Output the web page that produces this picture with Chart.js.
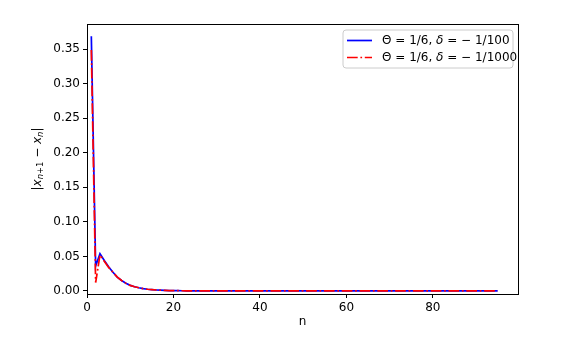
<!DOCTYPE html>
<html>
<head>
<meta charset="utf-8">
<script src="https://cdn.jsdelivr.net/npm/chart.js@4.4.0/dist/chart.umd.min.js"></script>
<style>
  body { margin: 0; background: #fff; }
  #wrap { width: 568px; height: 337px; }
</style>
</head>
<body>
<div id="wrap"><canvas id="chart" width="568" height="337"></canvas></div>
<script>
// iteration index n = 1..95
var nValues = [];
for (var k = 1; k <= 95; k++) nValues.push(k);

// |x_{n+1} - x_n| for delta = -1/100
var seriesDelta100 = [
    0.369, 0.036, 0.054, 0.044, 0.035, 0.027, 0.020, 0.015, 0.011, 0.008,
    0.006, 0.0045, 0.0033, 0.0024, 0.0018, 0.0013, 0.001, 0.0007, 0.0005, 0.0004,
    0.0003, 0.0002, 0.00015, 0.0001, 0, 0, 0, 0, 0, 0,
    0, 0, 0, 0, 0, 0, 0, 0, 0, 0,
    0, 0, 0, 0, 0, 0, 0, 0, 0, 0,
    0, 0, 0, 0, 0, 0, 0, 0, 0, 0,
    0, 0, 0, 0, 0, 0, 0, 0, 0, 0,
    0, 0, 0, 0, 0, 0, 0, 0, 0, 0,
    0, 0, 0, 0, 0, 0, 0, 0, 0, 0,
    0, 0, 0, 0, 0
];

// |x_{n+1} - x_n| for delta = -1/1000
var seriesDelta1000 = [
    0.349, 0.012, 0.052, 0.043, 0.034, 0.027, 0.020, 0.015, 0.011, 0.008,
    0.006, 0.0045, 0.0033, 0.0024, 0.0018, 0.0013, 0.001, 0.0007, 0.0005, 0.0004,
    0.0003, 0.0002, 0.00015, 0.0001, 0, 0, 0, 0, 0, 0,
    0, 0, 0, 0, 0, 0, 0, 0, 0, 0,
    0, 0, 0, 0, 0, 0, 0, 0, 0, 0,
    0, 0, 0, 0, 0, 0, 0, 0, 0, 0,
    0, 0, 0, 0, 0, 0, 0, 0, 0, 0,
    0, 0, 0, 0, 0, 0, 0, 0, 0, 0,
    0, 0, 0, 0, 0, 0, 0, 0, 0, 0,
    0, 0, 0, 0, 0
];

var xTicks = [0, 20, 40, 60, 80];
var yTicks = [0, 0.05, 0.10, 0.15, 0.20, 0.25, 0.30, 0.35];

var FONT = "DejaVu Sans";
var FS = 12;

function toPoints(ys) {
    return nValues.map(function(n, i) { return { x: n, y: ys[i] }; });
}

// draws a run of text pieces, each may be italic / subscript
function drawPieces(ctx, pieces, x, y) {
    pieces.forEach(function(p) {
        var size = p.sub ? FS * 0.7 : FS;
        ctx.font = (p.italic ? "oblique " : "") + size + "px '" + FONT + "'";
        ctx.fillText(p.t, x, y + (p.sub ? FS * 0.25 : 0));
        x += ctx.measureText(p.t).width;
    });
    return x;
}
function piecesWidth(ctx, pieces) {
    var w = 0;
    pieces.forEach(function(p) {
        var size = p.sub ? FS * 0.7 : FS;
        ctx.font = (p.italic ? "oblique " : "") + size + "px '" + FONT + "'";
        w += ctx.measureText(p.t).width;
    });
    return w;
}

var extras = {
    id: 'extras',
    afterDraw: function(chart) {
        var ctx = chart.ctx;
        var a = chart.chartArea;
        ctx.save();

        // full box round the axes
        ctx.strokeStyle = '#000';
        ctx.lineWidth = 1;
        ctx.strokeRect(Math.round(a.left) + 0.5, Math.round(a.top) + 0.5,
            Math.round(a.right - a.left), Math.round(a.bottom - a.top));

        // legend
        var bx = 343, by = 30, bw = 170, bh = 38, r = 3;
        ctx.beginPath();
        ctx.moveTo(bx + r, by);
        ctx.arcTo(bx + bw, by, bx + bw, by + bh, r);
        ctx.arcTo(bx + bw, by + bh, bx, by + bh, r);
        ctx.arcTo(bx, by + bh, bx, by, r);
        ctx.arcTo(bx, by, bx + bw, by, r);
        ctx.closePath();
        ctx.fillStyle = 'rgba(255,255,255,0.8)';
        ctx.fill();
        ctx.strokeStyle = '#cccccc';
        ctx.stroke();

        var entries = [
            { color: '#0000ff', dash: [], label: '1/100', y: 40.5 },
            { color: '#ff0000', dash: [10.7, 2.7, 1.7, 2.7], label: '1/1000', y: 57.5 }
        ];
        entries.forEach(function(e) {
            ctx.beginPath();
            ctx.setLineDash(e.dash);
            ctx.strokeStyle = e.color;
            ctx.lineWidth = 1.7;
            ctx.moveTo(347, e.y);
            ctx.lineTo(372, e.y);
            ctx.stroke();
            ctx.setLineDash([]);
            ctx.fillStyle = '#000';
            ctx.textBaseline = 'middle';
            ctx.textAlign = 'left';
            drawPieces(ctx, [
                { t: '\u0398 = 1/6, ' },
                { t: '\u03b4', italic: true },
                { t: ' = \u2212 ' + e.label }
            ], 382, e.y);
        });

        // x axis title
        ctx.fillStyle = '#000';
        ctx.font = FS + "px '" + FONT + "'";
        ctx.textAlign = 'center';
        ctx.textBaseline = 'middle';
        ctx.fillText('n', (a.left + a.right) / 2, 322);

        // y axis title, rotated
        var yl = [
            { t: '|' },
            { t: 'x', italic: true },
            { t: 'n', italic: true, sub: true },
            { t: '+1', sub: true },
            { t: ' \u2212 ' },
            { t: 'x', italic: true },
            { t: 'n', italic: true, sub: true },
            { t: '|' }
        ];
        ctx.translate(38, (a.top + a.bottom) / 2);
        ctx.rotate(-Math.PI / 2);
        ctx.textAlign = 'left';
        drawPieces(ctx, yl, -piecesWidth(ctx, yl) / 2, 0);

        ctx.restore();
    }
};

new Chart(document.getElementById('chart'), {
    type: 'line',
    data: {
        datasets: [{
            label: '\u0398 = 1/6, \u03b4 = \u2212 1/100',
            data: toPoints(seriesDelta100),
            borderColor: '#0000ff',
            borderWidth: 1.7,
            pointRadius: 0,
            fill: false,
            order: 1
        }, {
            label: '\u0398 = 1/6, \u03b4 = \u2212 1/1000',
            data: toPoints(seriesDelta1000),
            borderColor: '#ff0000',
            borderWidth: 1.7,
            borderDash: [10.7, 2.7, 1.7, 2.7],
            pointRadius: 0,
            fill: false,
            order: 0
        }]
    },
    options: {
        responsive: false,
        animation: false,
        layout: { padding: { top: 24, right: 50, left: 0, bottom: 0 } },
        plugins: { legend: { display: false }, tooltip: { enabled: false } },
        scales: {
            x: {
                type: 'linear',
                min: 0,
                max: 99.7,
                afterFit: function(s) { s.height = 43; },
                afterBuildTicks: function(s) {
                    s.ticks = xTicks.map(function(v) { return { value: v }; });
                },
                grid: { drawOnChartArea: false, tickLength: 4, color: '#000' },
                border: { color: '#000', width: 1 },
                ticks: {
                    color: '#000', padding: 3, maxRotation: 0,
                    font: { family: FONT, size: FS },
                    callback: function(v) { return String(v); }
                }
            },
            y: {
                type: 'linear',
                min: -0.0045,
                max: 0.3866,
                afterFit: function(s) { s.width = 87; },
                afterBuildTicks: function(s) {
                    s.ticks = yTicks.map(function(v) { return { value: v }; });
                },
                grid: { drawOnChartArea: false, tickLength: 4, color: '#000' },
                border: { color: '#000', width: 1 },
                ticks: {
                    color: '#000', padding: 3,
                    font: { family: FONT, size: FS },
                    callback: function(v) { return v.toFixed(2); }
                }
            }
        }
    },
    plugins: [extras]
});
</script>
</body>
</html>
